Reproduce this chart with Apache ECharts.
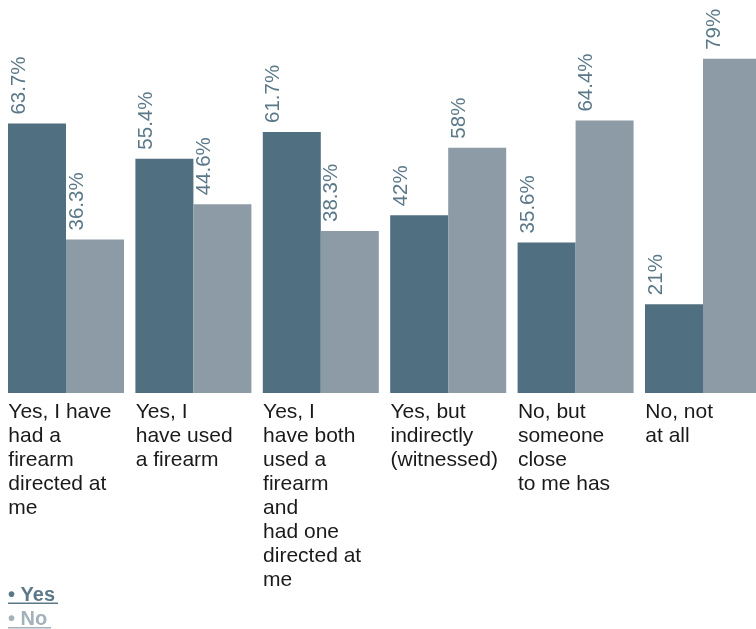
<!DOCTYPE html>
<html><head><meta charset="utf-8">
<script src="https://cdn.jsdelivr.net/npm/echarts@6/dist/echarts.min.js"></script>
<style>html,body{margin:0;padding:0;background:#fff;overflow:hidden}#c{width:756px;height:629px}</style>
</head><body><div id="c"></div>
<script>
const categories = ["Yes, I have had a firearm directed at me","Yes, I have used a firearm","Yes, I have both used a firearm and had one directed at me","Yes, but indirectly (witnessed)","No, but someone close to me has","No, not at all"];
const categoryLabels = ["Yes, I have\nhad a\nfirearm\ndirected at\nme","Yes, I\nhave used\na firearm","Yes, I\nhave both\nused a\nfirearm\nand\nhad one\ndirected at\nme","Yes, but\nindirectly\n(witnessed)","No, but\nsomeone\nclose\nto me has","No, not\nat all",""];
const yesValues = [63.7, 55.4, 61.7, 42, 35.6, 21];
const noValues = [36.3, 44.6, 38.3, 58, 64.4, 79];
const seriesNames = ["Yes","No"];

const FONT = "'Liberation Sans', Arial, Helvetica, sans-serif";
const labelCfg = {
  show: true, position: [11, -9], rotate: 90, align: 'left', verticalAlign: 'middle',
  color: '#5b7889', fontSize: 20.5, fontFamily: FONT,
  formatter: p => p.value + '%'
};
const chart = echarts.init(document.getElementById('c'));
chart.setOption({
  animation: false,
  grid: {left: 2.3, width: 764.4, top: 0, height: 393, containLabel: false, outerBoundsMode: 'none'},
  xAxis: [
    {type: 'category', data: categories, axisLine: {show: false}, axisTick: {show: false}, axisLabel: {show: false}},
    {type: 'category', data: categoryLabels, boundaryGap: false, position: 'bottom',
     axisLine: {show: false}, axisTick: {show: false}, splitLine: {show: false},
     axisLabel: {interval: 0, align: 'left', verticalAlign: 'top', margin: 7.6, padding: [0,0,0,6],
       color: '#1a1a1a', fontSize: 21, lineHeight: 24, fontFamily: FONT, formatter: v => v}}
  ],
  yAxis: {type: 'value', min: 0, max: 92.9, show: false, splitLine: {show: false}},
  legend: {
    orient: 'vertical', left: 3, top: 585, padding: 0, itemGap: 4,
    icon: 'none', itemWidth: 0, itemHeight: 20, selectedMode: false,
    formatter: n => '\u2022 ' + n,
    data: [
      {name: 'Yes', textStyle: {color: '#5b7889', fontWeight: 'bold', fontSize: 20, fontFamily: FONT, lineHeight: 20}},
      {name: 'No', textStyle: {color: '#a3b1bb', fontWeight: 'bold', fontSize: 20, fontFamily: FONT, lineHeight: 20}}
    ]
  },
  graphic: [
    {type: 'rect', shape: {x: 8, y: 602.5, width: 50, height: 1.5}, style: {fill: '#5b7889'}},
    {type: 'rect', shape: {x: 8, y: 627, width: 43, height: 1.5}, style: {fill: '#a3b1bb'}}
  ],
  series: [
    {name: seriesNames[0], type: 'bar', data: yesValues, barWidth: 58, barGap: '0%', xAxisIndex: 0,
     itemStyle: {color: '#506f80'}, label: labelCfg},
    {name: seriesNames[1], type: 'bar', data: noValues, barWidth: 58, barGap: '0%', xAxisIndex: 0,
     itemStyle: {color: '#8c9ba6'}, label: labelCfg}
  ]
});
</script></body></html>
